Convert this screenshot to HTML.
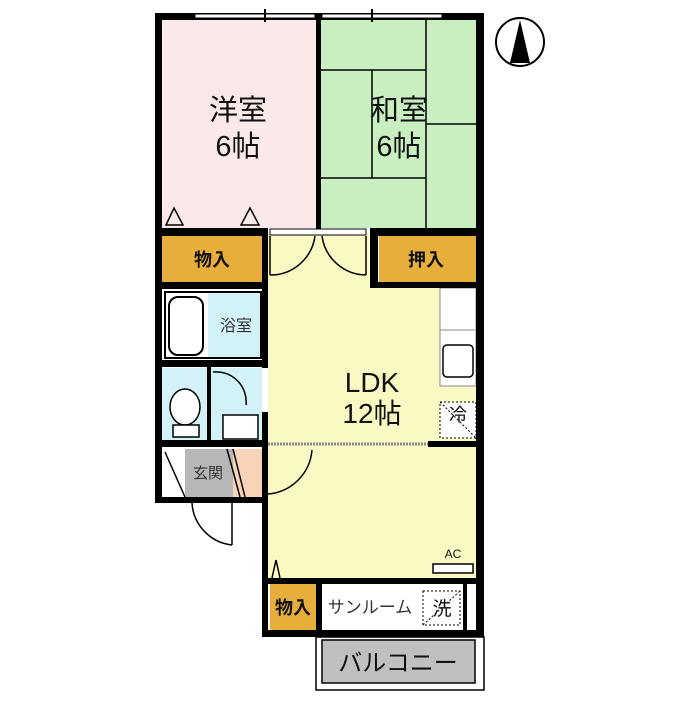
<!DOCTYPE html>
<html><head><meta charset="utf-8"><style>
body{margin:0;background:#fff;width:700px;height:700px;overflow:hidden}
svg text{font-family:"Liberation Sans","Noto Sans CJK JP",sans-serif}
</style></head><body>
<svg width="700" height="700" viewBox="0 0 700 700" xmlns="http://www.w3.org/2000/svg">
<rect x="162" y="20" width="154" height="208" fill="#fbe9e9"/>
<rect x="321" y="20" width="155" height="208" fill="#c9efc1"/>
<rect x="268" y="233" width="208" height="345" fill="#fbf9c3"/>
<rect x="376" y="233" width="100" height="52" fill="#fff"/>
<rect x="440" y="288" width="36" height="98" fill="#fff" stroke="#888" stroke-width="1"/>
<line x1="440" y1="330" x2="476" y2="330" stroke="#888"/>
<rect x="162" y="236" width="100" height="46" fill="#e8ae3c"/>
<rect x="379" y="236" width="97" height="46" fill="#e8ae3c"/>
<rect x="165" y="292" width="96" height="66" fill="#fff" stroke="#000" stroke-width="2"/>
<rect x="208" y="293" width="52" height="64" fill="#d3f2f8"/>
<rect x="162" y="368" width="100" height="73" fill="#d3f2f8"/>
<rect x="185" y="449" width="48" height="50" fill="#b7b7b7"/>
<rect x="233" y="449" width="29" height="48" fill="#f8d3b8"/>
<rect x="270" y="584" width="46" height="46" fill="#e8ae3c"/>
<rect x="322" y="584" width="150" height="46" fill="#fff"/>
<rect x="322" y="640" width="153" height="43" fill="#c0c0c0" stroke="#000" stroke-width="1.5"/>
<rect x="316" y="637" width="168" height="53" fill="none" stroke="#000" stroke-width="1.5"/>
<g stroke="#000" stroke-width="1.5">
<line x1="426" y1="20" x2="426" y2="228"/>
<line x1="321" y1="70" x2="426" y2="70"/>
<line x1="321" y1="178" x2="426" y2="178"/>
<line x1="372" y1="70" x2="372" y2="178"/>
<line x1="426" y1="124" x2="476" y2="124"/>
</g>
<g fill="#000">
<rect x="155" y="13" width="329" height="7"/>
<rect x="155" y="13" width="7" height="490"/>
<rect x="476" y="13" width="8" height="624"/>
<rect x="316" y="13" width="5" height="222"/>
<rect x="155" y="228" width="113" height="8"/>
<rect x="370" y="228" width="114" height="8"/>
<rect x="370" y="228" width="8" height="57"/>
<rect x="370" y="282" width="114" height="6"/>
<rect x="155" y="282" width="113" height="7"/>
<rect x="262" y="228" width="6" height="140"/>
<rect x="155" y="360" width="113" height="7"/>
<rect x="207" y="367" width="4" height="75"/>
<rect x="262" y="412" width="6" height="225"/>
<rect x="155" y="440" width="113" height="7"/>
<rect x="428" y="441" width="48" height="6"/>
<rect x="155" y="497" width="110" height="6"/>
<rect x="262" y="578" width="222" height="6"/>
<rect x="262" y="630" width="222" height="7"/>
<rect x="316" y="584" width="6" height="46"/>
<rect x="463" y="584" width="4" height="46"/>
</g>
<g fill="#fff" stroke="#000" stroke-width="1">
<rect x="195" y="14" width="120" height="4"/>
<rect x="322" y="14" width="120" height="4"/>
</g>
<line x1="265" y1="9" x2="265" y2="22" stroke="#000" stroke-width="2"/>
<line x1="372" y1="9" x2="372" y2="22" stroke="#000" stroke-width="2"/>
<line x1="268" y1="444" x2="428" y2="444" stroke="#888" stroke-width="3" stroke-dasharray="2,1"/>
<rect x="270" y="229" width="96" height="6" fill="#fff" stroke="#000" stroke-width="1"/>
<g fill="none" stroke="#000" stroke-width="1.5">
<path d="M270 275 A45 45 0 0 0 315 236"/><line x1="270" y1="236" x2="270" y2="275"/>
<path d="M366 275 A45 45 0 0 1 322 236"/><line x1="366" y1="236" x2="366" y2="275"/>
<path d="M268 494 A48 48 0 0 0 312 450"/>
<path d="M192 503 A45 45 0 0 0 232 545"/><line x1="232" y1="503" x2="232" y2="545"/>
<path d="M213 372 A30 30 0 0 1 246 405"/>
<line x1="165" y1="452" x2="185" y2="497"/>
<line x1="227" y1="449" x2="240" y2="497"/><line x1="233" y1="449" x2="245" y2="497"/>
<path d="M166 225 L174 208 L183 225 Z M241 225 L250 208 L259 225 Z"/>
<path d="M272 578 L276 560 L280 578"/>
</g>
<rect x="169" y="297" width="34" height="58" rx="9" fill="#fff" stroke="#000" stroke-width="2"/>
<ellipse cx="185" cy="407" rx="15" ry="18" fill="#fff" stroke="#000" stroke-width="1.5"/>
<rect x="173" y="425" width="26" height="12" fill="#fff" stroke="#000" stroke-width="1.5"/>
<rect x="223" y="415" width="35" height="24" fill="#fff" stroke="#000" stroke-width="1.5"/>
<rect x="443" y="345" width="30" height="32" rx="4" fill="#fff" stroke="#000" stroke-width="1.5"/>
<rect x="440" y="402" width="36" height="36" fill="#fff" stroke="#000" stroke-width="1" stroke-dasharray="2,2"/>
<line x1="440" y1="402" x2="476" y2="438" stroke="#000" stroke-dasharray="2,2"/>
<rect x="423" y="591" width="37" height="34" fill="#fff" stroke="#000" stroke-width="1" stroke-dasharray="2,2"/>
<line x1="423" y1="625" x2="460" y2="591" stroke="#000" stroke-dasharray="2,2"/>
<rect x="433" y="564" width="40" height="9" fill="#fff" stroke="#000" stroke-width="1.5"/>
<circle cx="520" cy="42" r="24" fill="#fff" stroke="#000" stroke-width="2"/>
<path d="M520 20 L510 63 L530 63 Z" fill="#000"/>
<g text-anchor="middle" fill="#111">
<text x="238" y="120" font-size="29">洋室</text>
<text x="238" y="156" font-size="29">6帖</text>
<text x="399" y="120" font-size="29">和室</text>
<text x="399" y="156" font-size="29">6帖</text>
<text x="372" y="392" font-size="28">LDK</text>
<text x="372" y="423" font-size="28">12帖</text>
<text x="212" y="266" font-size="18" font-weight="bold">物入</text>
<text x="426" y="266" font-size="18" font-weight="bold">押入</text>
<text x="236" y="331" font-size="16" fill="#333">浴室</text>
<text x="208" y="478" font-size="15" fill="#333">玄関</text>
<text x="293" y="614" font-size="18" font-weight="bold">物入</text>
<text x="370" y="613" font-size="17" fill="#333">サンルーム</text>
<text x="442" y="615" font-size="19">洗</text>
<text x="458" y="421" font-size="18">冷</text>
<text x="453" y="558" font-size="12">AC</text>
<text x="398" y="671" font-size="24">バルコニー</text>
</g>
</svg>
</body></html>
